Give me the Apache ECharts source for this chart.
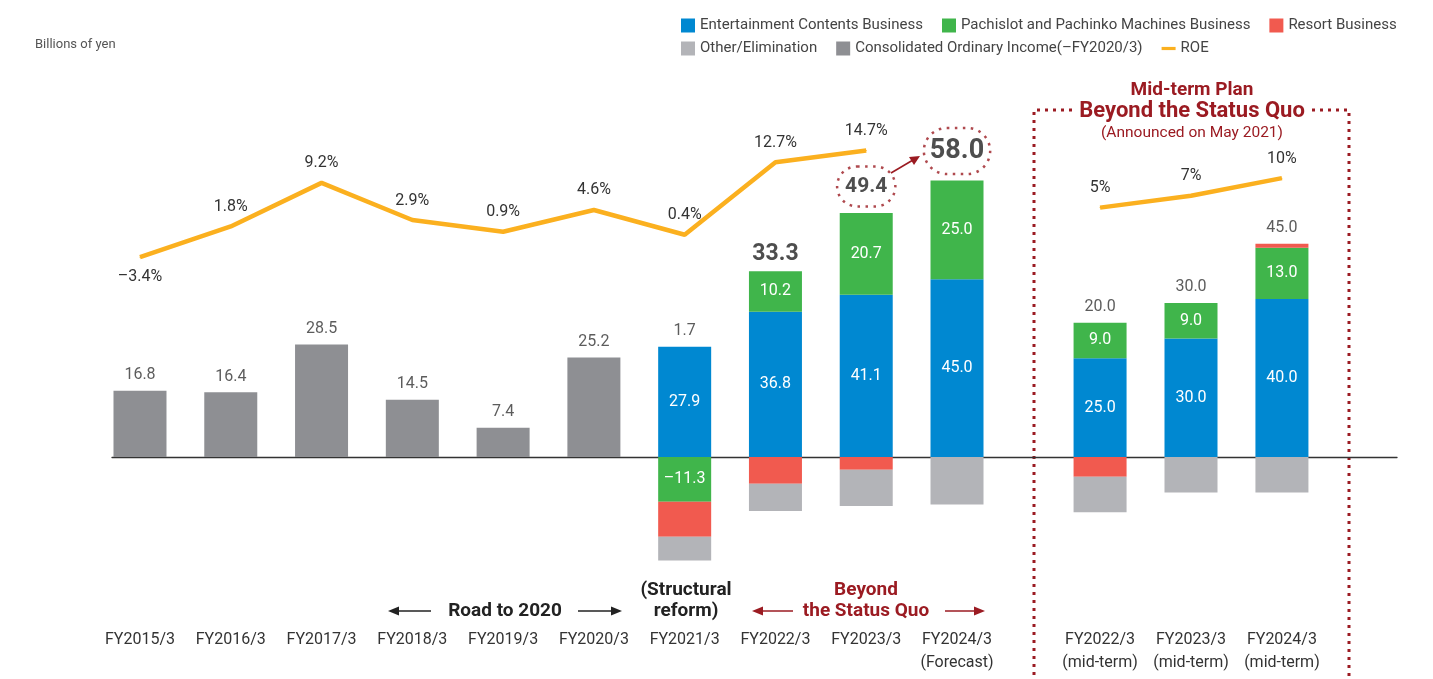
<!DOCTYPE html>
<html>
<head>
<meta charset="utf-8">
<script src="https://cdn.jsdelivr.net/npm/echarts@6/dist/echarts.min.js"></script>
<style>
  html, body { margin: 0; padding: 0; background: #fff; }
  #main { width: 1433px; height: 679px; }
</style>
</head>
<body>
<div id="main"></div>
<script>
// results, billions of yen
const cats = ['FY2015/3', 'FY2016/3', 'FY2017/3', 'FY2018/3', 'FY2019/3', 'FY2020/3',
  'FY2021/3', 'FY2022/3', 'FY2023/3', 'FY2024/3\n(Forecast)'];
const consolidated = [16.8, 16.4, 28.5, 14.5, 7.4, 25.2, null, null, null, null];
const entertainment = [null, null, null, null, null, null, 27.9, 36.8, 41.1, 45.0];
const pachislot = [null, null, null, null, null, null, -11.3, 10.2, 20.7, 25.0];
const resort = [null, null, null, null, null, null, -8.9, -6.8, -3.2, null];
const other = [null, null, null, null, null, null, -6.0, -6.9, -9.2, -12.0];
const totals = [16.8, 16.4, 28.5, 14.5, 7.4, 25.2, 1.7, 33.3, 49.4, 58.0];
const roe = [-3.4, 1.8, 9.2, 2.9, 0.9, 4.6, 0.4, 12.7, 14.7, null];

// mid-term plan
const planCats = ['FY2022/3\n(mid-term)', 'FY2023/3\n(mid-term)', 'FY2024/3\n(mid-term)'];
const planEntertainment = [25.0, 30.0, 40.0];
const planPachislot = [9.0, 9.0, 13.0];
const planResort = [-5.0, null, 1.0];
const planOther = [-9.0, -9.0, -9.0];
const planTotals = [20.0, 30.0, 45.0];
const planRoe = [5, 7, 10];

const BLUE = '#0088d1', GREEN = '#40b54b', RED = '#f15a4f', LGRAY = '#b3b4b8',
  DGRAY = '#8e8f93', ORANGE = '#fbb01f', DARKRED = '#9b1b22', TXT = '#333';
const FONT = 'Roboto, "Liberation Sans", sans-serif';

// top of the positive part of each stack, used to hang the total labels
function stackTop(lists) {
  return lists[0].map((_, i) => lists.reduce((s, l) => s + (l[i] > 0 ? l[i] : 0), 0));
}
const tops = stackTop([consolidated, entertainment, pachislot, resort, other]);
const planTops = stackTop([planEntertainment, planPachislot, planResort, planOther]);

const fmt1 = v => (v < 0 ? '\u2013' : '') + Math.abs(v).toFixed(1);

function barSeries(name, data, color, xi, yi, showLabel) {
  return {
    name: name, type: 'bar', stack: 's' + xi, xAxisIndex: xi, yAxisIndex: yi,
    barWidth: 53, data: data,
    itemStyle: { color: color },
    label: {
      show: !!showLabel, position: 'inside', color: '#fff', fontSize: 16, fontFamily: FONT,
      formatter: p => p.value == null ? '' : fmt1(p.value)
    }
  };
}

function totalSeries(tp, tot, xi, yi) {
  return {
    type: 'scatter', xAxisIndex: xi, yAxisIndex: yi, symbolSize: 1,
    itemStyle: { color: 'rgba(0,0,0,0)' }, silent: true,
    data: tp.map((v, i) => {
      const item = { value: v };
      if (xi === 0 && i === 7) item.label = { fontSize: 23, fontWeight: 'bold', color: '#222', distance: 5 };
      if (xi === 0 && i === 8) item.label = {
        fontSize: 21, fontWeight: 'bold', color: '#222', distance: 6,
        borderColor: DARKRED, borderWidth: 2.5, borderType: [2.5, 5.5], borderRadius: 22,
        padding: [10, 8, 9, 8]
      };
      if (xi === 0 && i === 9) item.label = {
        fontSize: 27, fontWeight: 'bold', color: '#222', distance: 6,
        borderColor: DARKRED, borderWidth: 2.5, borderType: [2.5, 5.5], borderRadius: 24,
        padding: [10, 6, 9, 6]
      };
      return item;
    }),
    label: {
      show: true, position: 'top', distance: 7, color: TXT, fontSize: 16, fontFamily: FONT,
      formatter: p => tot[p.dataIndex].toFixed(1)
    }
  };
}

function roeSeries(data, xi, yi, digits) {
  return {
    name: 'ROE', type: 'line', xAxisIndex: xi, yAxisIndex: yi,
    symbol: 'circle', symbolSize: 1, showSymbol: true,
    lineStyle: { color: ORANGE, width: 4.5 }, itemStyle: { color: ORANGE },
    data: data.map(v => v != null && v < 0
      ? { value: v, label: { position: 'bottom' } } : v),
    label: {
      show: true, position: 'top', distance: 11, color: TXT, fontSize: 16, fontFamily: FONT,
      formatter: p => (digits ? fmt1(p.value) : String(p.value)) + '%'
    }
  };
}

function arrow(x1, x2, y, color) {
  const dir = x2 > x1 ? 1 : -1;
  return [
    { type: 'line', shape: { x1: x1, y1: y, x2: x2 - dir * 6, y2: y },
      style: { stroke: color, lineWidth: 1.6 } },
    { type: 'polygon', shape: { points: [[x2, y], [x2 - dir * 11, y - 4.5], [x2 - dir * 11, y + 4.5]] },
      style: { fill: color } }
  ];
}

function text(t, x, y, size, weight, color) {
  return { type: 'text', x: x, y: y,
    style: { text: t, fontSize: size, fontWeight: weight, fontFamily: FONT, fill: color,
      align: 'center', verticalAlign: 'middle' } };
}

const xAxisCommon = {
  type: 'category', axisLine: { show: false, onZero: false }, axisTick: { show: false },
  axisLabel: { interval: 0, margin: 53, color: TXT, fontSize: 16, lineHeight: 23, fontFamily: FONT }
};
const yBar = { type: 'value', min: -30, max: 90, show: false, splitLine: { show: false } };
const yRoe = { type: 'value', min: -57.4, max: 23, show: false, splitLine: { show: false } };

const chart = echarts.init(document.getElementById('main'));
chart.setOption({
  animation: false,
  textStyle: { fontFamily: FONT },
  grid: [
    { left: 94.6, right: 430.6, top: 101.5, bottom: 103.5 },
    { left: 1054.6, right: 105.6, top: 101.5, bottom: 103.5 },
    { left: 112, right: 36, top: 101.5, bottom: 103.5 }
  ],
  xAxis: [
    Object.assign({ gridIndex: 0, data: cats }, xAxisCommon),
    Object.assign({ gridIndex: 1, data: planCats }, xAxisCommon),
    { gridIndex: 2, type: 'value', min: 0, max: 1,
      axisLine: { show: true, onZero: true, lineStyle: { color: '#333', width: 1.3 } },
      axisTick: { show: false }, axisLabel: { show: false }, splitLine: { show: false } }
  ],
  yAxis: [
    Object.assign({ gridIndex: 0 }, yBar),
    Object.assign({ gridIndex: 0 }, yRoe),
    Object.assign({ gridIndex: 1 }, yBar),
    Object.assign({ gridIndex: 1 }, yRoe),
    Object.assign({ gridIndex: 2 }, yBar)
  ],
  legend: [
    { left: 676, top: 13, itemWidth: 14, itemHeight: 14, itemGap: 19, selectedMode: false,
      textStyle: { color: '#444', fontSize: 15, fontFamily: FONT },
      data: [
        { name: 'Entertainment Contents Business', icon: 'rect' },
        { name: 'Pachislot and Pachinko Machines Business', icon: 'rect' },
        { name: 'Resort Business', icon: 'rect' }
      ] },
    { left: 676, top: 36, itemWidth: 14, itemHeight: 14, itemGap: 19, selectedMode: false,
      textStyle: { color: '#444', fontSize: 15, fontFamily: FONT },
      data: [
        { name: 'Other/Elimination', icon: 'rect' },
        { name: 'Consolidated Ordinary Income(\u2013FY2020/3)', icon: 'rect' },
        { name: 'ROE', icon: 'path://M0,0 L22,0 L22,5 L0,5 Z', itemStyle: { color: ORANGE } }
      ] }
  ],
  series: [
    barSeries('Consolidated Ordinary Income(\u2013FY2020/3)', consolidated, DGRAY, 0, 0, false),
    barSeries('Entertainment Contents Business', entertainment, BLUE, 0, 0, true),
    barSeries('Pachislot and Pachinko Machines Business', pachislot, GREEN, 0, 0, true),
    barSeries('Resort Business', resort, RED, 0, 0, false),
    barSeries('Other/Elimination', other, LGRAY, 0, 0, false),
    totalSeries(tops, totals, 0, 0),
    roeSeries(roe, 0, 1, true),
    barSeries('Entertainment Contents Business', planEntertainment, BLUE, 1, 2, true),
    barSeries('Pachislot and Pachinko Machines Business', planPachislot, GREEN, 1, 2, true),
    barSeries('Resort Business', planResort, RED, 1, 2, false),
    barSeries('Other/Elimination', planOther, LGRAY, 1, 2, false),
    totalSeries(planTops, planTotals, 1, 2),
    roeSeries(planRoe, 1, 3, false)
  ],
  graphic: [
    { type: 'text', left: 35, top: 38,
      style: { text: 'Billions of yen', fontSize: 13, fill: '#555', fontFamily: FONT } },
    text('Road to 2020', 505, 611, 19, 'bold', '#222'),
    ...arrow(431, 388, 611, '#222'),
    ...arrow(578, 622, 611, '#222'),
    text('(Structural', 686, 590, 19, 'bold', '#222'),
    text('reform)', 686, 611, 19, 'bold', '#222'),
    text('Beyond', 866, 590, 19, 'bold', DARKRED),
    text('the Status Quo', 866, 611, 19, 'bold', DARKRED),
    ...arrow(793, 752, 611, DARKRED),
    ...arrow(945, 985, 611, DARKRED),
    { type: 'line', shape: { x1: 891, y1: 173, x2: 913, y2: 160 },
      style: { stroke: DARKRED, lineWidth: 1.6 } },
    { type: 'polygon', shape: { points: [[920, 156], [909, 157], [914, 165]] },
      style: { fill: DARKRED } },
    { type: 'polyline', shape: { points: [[1072, 110], [1034, 110], [1034, 679]] },
      style: { stroke: DARKRED, lineWidth: 3, lineDash: [3, 5], fill: null } },
    { type: 'polyline', shape: { points: [[1312, 110], [1349, 110], [1349, 679]] },
      style: { stroke: DARKRED, lineWidth: 3, lineDash: [3, 5], fill: null } },
    text('Mid-term Plan', 1192, 90, 19, 'bold', DARKRED),
    text('Beyond the Status Quo', 1192, 111, 22, 'bold', DARKRED),
    text('(Announced on May 2021)', 1192, 133, 15.5, 'normal', DARKRED)
  ]
});
</script>
</body>
</html>
